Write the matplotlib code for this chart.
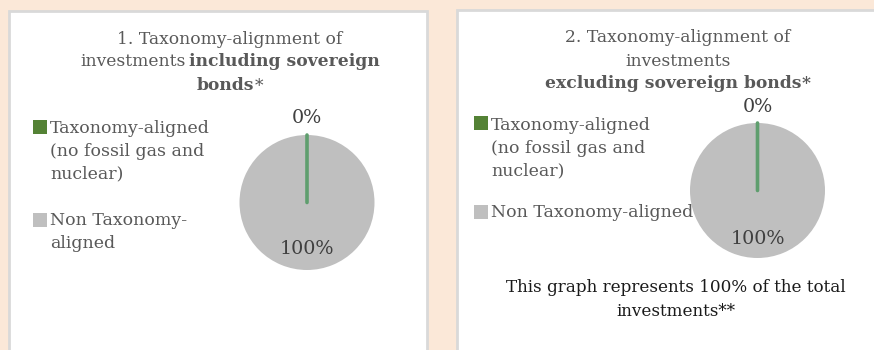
import matplotlib
matplotlib.use("Agg")
import matplotlib.pyplot as plt
from matplotlib.patches import Rectangle

W, H = 874, 350
BG = "#fbe8d8"
GREEN = "#548235"
GREY = "#bfbfbf"
LINE_GREEN = "#5f9e6e"
TXT = "#595959"

categories = ["Taxonomy-aligned\n(no fossil gas and\nnuclear)", "Non Taxonomy-\naligned"]
categories_2 = ["Taxonomy-aligned\n(no fossil gas and\nnuclear)", "Non Taxonomy-aligned"]
incl_sov = [0, 100]
excl_sov = [0, 100]
footer = "This graph represents 100% of the total\ninvestments**"

plt.rcParams["font.family"] = ["DejaVu Serif"]

fig = plt.figure(figsize=(W / 100, H / 100), dpi=100)
fig.patch.set_facecolor(BG)
renderer = fig.canvas.get_renderer()


def fx(x):
    return x / W


def fy(y):
    return 1 - y / H


def panel(x0, y0, x1, y1):
    fig.patches.append(Rectangle((fx(x0), fy(y1)), fx(x1 - x0), y1 / H - y0 / H,
                                 transform=fig.transFigure, facecolor="white",
                                 edgecolor="#d9d9d9", linewidth=2, zorder=-5))


def rich_line(cx, y, parts, size=12.3, color=TXT):
    # parts: list of (text, weight); laid out left to right, centred on cx
    texts = []
    x = 0
    gap = size * 0.3
    for i, (s, wt) in enumerate(parts):
        t = fig.text(0, fy(y), s, fontsize=size, fontweight=wt, color=color,
                     ha="left", va="center")
        w = t.get_window_extent(renderer).width
        texts.append((t, x))
        x += w + (gap if i < len(parts) - 1 and not parts[i + 1][0].startswith("*") else 0)
    start = cx - x / 2
    for t, off in texts:
        t.set_x(fx(start + off))


def legend(x, ys, labels, colors, size=12.5):
    for (yb, yt), lab, c in zip(ys, labels, colors):
        fig.patches.append(Rectangle((fx(x), fy(yb)), fx(14), 14 / H,
                                     transform=fig.transFigure, facecolor=c,
                                     edgecolor="none", zorder=2))
        fig.text(fx(x + 17), fy(yt), lab, fontsize=size, color=TXT,
                 ha="left", va="top", linespacing=1.45)


def pie(cx, cy, r, values, top_y, bot_y):
    ax = fig.add_axes([fx(cx - r), fy(cy + r), fx(2 * r), 2 * r / H])
    wedges, _ = ax.pie(values, colors=[GREEN, GREY], startangle=90,
                       counterclock=False, radius=1)
    wedges[0].set_edgecolor(LINE_GREEN)
    wedges[0].set_linewidth(2.6)
    wedges[0].set_capstyle("round")
    wedges[0].set_zorder(3)
    wedges[1].set_edgecolor("none")
    ax.set_xlim(-1, 1)
    ax.set_ylim(-1, 1)
    ax.set_aspect("equal")
    ax.axis("off")
    ax.text(0, top_y, f"{values[0]:.0f}%", ha="center", va="center",
            fontsize=13.8, color="#404040", clip_on=False)
    ax.text(0, bot_y, f"{values[1]:.0f}%", ha="center", va="center",
            fontsize=13.8, color="#404040", clip_on=False)


panel(9, 11, 427, 370)
panel(457, 10, 900, 370)

# left chart: including sovereign bonds
rich_line(230, 39, [("1. Taxonomy-alignment of", "normal")])
rich_line(230, 62, [("investments", "normal"), ("including sovereign", "bold")])
rich_line(230, 86, [("bonds", "bold"), ("*", "normal")])
legend(33, [(134, 120), (227, 212)], categories, [GREEN, GREY])
pie(307, 202.5, 67.5, incl_sov, 1.25, -0.69)

# right chart: excluding sovereign bonds
rich_line(678, 37, [("2. Taxonomy-alignment of", "normal")])
rich_line(678, 61, [("investments", "normal")])
rich_line(678, 84, [("excluding sovereign bonds", "bold"), ("*", "bold")])
legend(474, [(130, 117), (219, 204)], categories_2, [GREEN, GREY])
pie(757.5, 190.5, 67.5, excl_sov, 1.24, -0.72)

fig.text(fx(676), fy(279), footer, fontsize=12.1, color="#1a1a1a",
         ha="center", va="top", linespacing=1.55)

fig.savefig("out.png", dpi=100, facecolor=BG)
